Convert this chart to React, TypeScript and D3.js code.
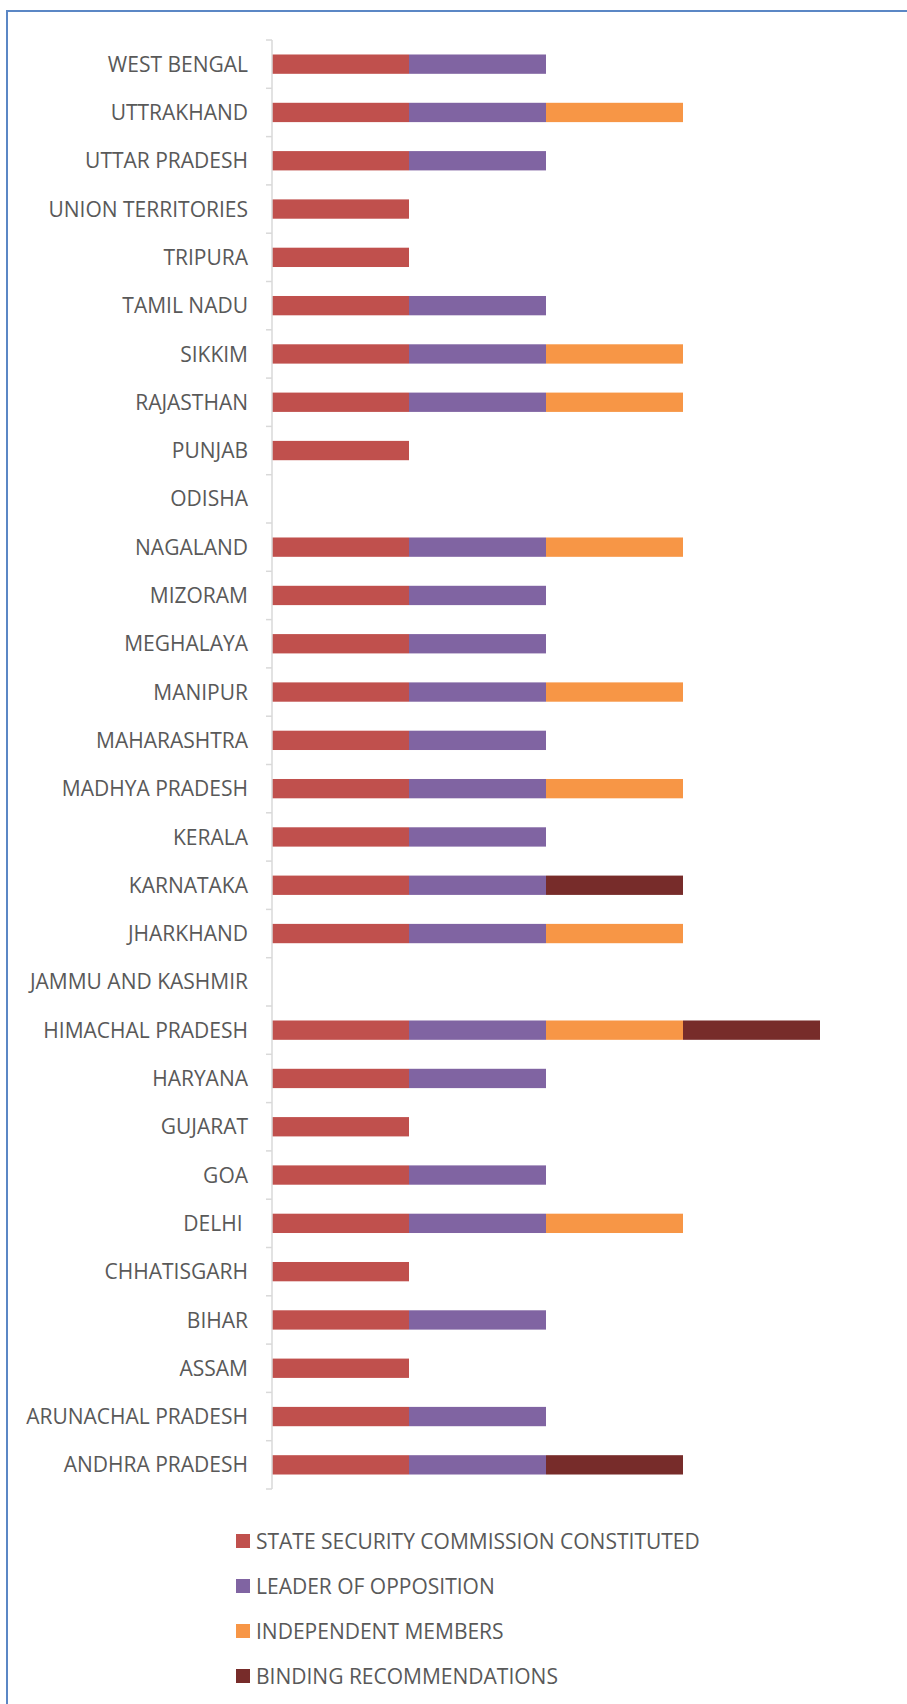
import React from "react";
import * as d3 from "d3";

const categories = [
  "WEST BENGAL", "UTTRAKHAND", "UTTAR PRADESH", "UNION TERRITORIES", "TRIPURA",
  "TAMIL NADU", "SIKKIM", "RAJASTHAN", "PUNJAB", "ODISHA", "NAGALAND", "MIZORAM",
  "MEGHALAYA", "MANIPUR", "MAHARASHTRA", "MADHYA PRADESH", "KERALA", "KARNATAKA",
  "JHARKHAND", "JAMMU AND KASHMIR", "HIMACHAL PRADESH", "HARYANA", "GUJARAT", "GOA",
  "DELHI ", "CHHATISGARH", "BIHAR", "ASSAM", "ARUNACHAL PRADESH", "ANDHRA PRADESH",
];

const seriesNames = [
  "STATE SECURITY COMMISSION CONSTITUTED",
  "LEADER OF OPPOSITION",
  "INDEPENDENT MEMBERS",
  "BINDING RECOMMENDATIONS",
];

const stateSecurityCommission = [1,1,1,1,1,1,1,1,1,0,1,1,1,1,1,1,1,1,1,0,1,1,1,1,1,1,1,1,1,1];
const leaderOfOpposition     = [1,1,1,0,0,1,1,1,0,0,1,1,1,1,1,1,1,1,1,0,1,1,0,1,1,0,1,0,1,1];
const independentMembers     = [0,1,0,0,0,0,1,1,0,0,1,0,0,1,0,1,0,0,1,0,1,0,0,0,1,0,0,0,0,0];
const bindingRecommendations = [0,0,0,0,0,0,0,0,0,0,0,0,0,0,0,0,0,1,0,0,1,0,0,0,0,0,0,0,0,1];

const colors = ["#C0504D", "#8064A2", "#F79646", "#772C2A"];

export default function App() {
  const W = 907, H = 1704;
  const axisX = 272;
  const unit = 137;
  const top = 40, bottom = 1489;
  const font = "'Open Sans', 'Noto Sans', sans-serif";
  const textColor = "#595959";

  const seriesValues = [stateSecurityCommission, leaderOfOpposition, independentMembers, bindingRecommendations];
  const rows = categories.map((c, i) => {
    const r: any = { cat: c };
    seriesValues.forEach((s, k) => (r["s" + k] = s[i]));
    return r;
  });
  const stack = d3.stack().keys(["s0", "s1", "s2", "s3"])(rows as any);

  const y = d3.scaleBand<string>().domain(categories).range([top, bottom]).paddingInner(0.6).paddingOuter(0.3);
  const x = d3.scaleLinear().domain([0, 1]).range([axisX, axisX + unit]);
  const step = y.step();
  const tickYs = d3.range(categories.length + 1).map((i) => top + i * step);

  const legendY = d3.scaleLinear().domain([0, 1]).range([1541, 1586]);

  return (
    <svg width={W} height={H} style={{ position: "absolute", left: 0, top: 0, background: "#fff" }}>
      <rect x={0} y={0} width={W} height={H} fill="#fff" />
      {/* border */}
      <line x1={7} y1={11} x2={W} y2={11} stroke="#5B87C5" strokeWidth={2} />
      <line x1={7} y1={10} x2={7} y2={H} stroke="#5B87C5" strokeWidth={2} />

      {/* bars */}
      {stack.map((layer, k) => (
        <g key={k} fill={colors[k]}>
          {layer.map((d: any, i: number) =>
            d[1] - d[0] > 0 ? (
              <rect key={i} x={x(d[0])} y={y(categories[i])} width={x(d[1]) - x(d[0])} height={y.bandwidth()} />
            ) : null
          )}
        </g>
      ))}

      {/* axis */}
      <line x1={axisX} y1={top} x2={axisX} y2={bottom} stroke="#D9D9D9" strokeWidth={1.5} />
      {tickYs.map((t, i) => (
        <line key={i} x1={axisX - 6} y1={t} x2={axisX} y2={t} stroke="#D9D9D9" strokeWidth={1.5} />
      ))}

      {/* labels */}
      {categories.map((c) => (
        <text
          key={c}
          x={248}
          y={(y(c) as number) + y.bandwidth() / 2}
          dy="0.36em"
          textAnchor="end"
          fontFamily={font}
          fontSize={21}
          fill={textColor}
          style={{ whiteSpace: "pre" }}
        >
          {c}
        </text>
      ))}

      {/* legend */}
      {seriesNames.map((n, k) => (
        <g key={n}>
          <rect x={236} y={legendY(k) - 7} width={14} height={14} fill={colors[k]} />
          <text x={256} y={legendY(k)} dy="0.36em" fontFamily={font} fontSize={21} fill={textColor}>
            {n}
          </text>
        </g>
      ))}
    </svg>
  );
}
